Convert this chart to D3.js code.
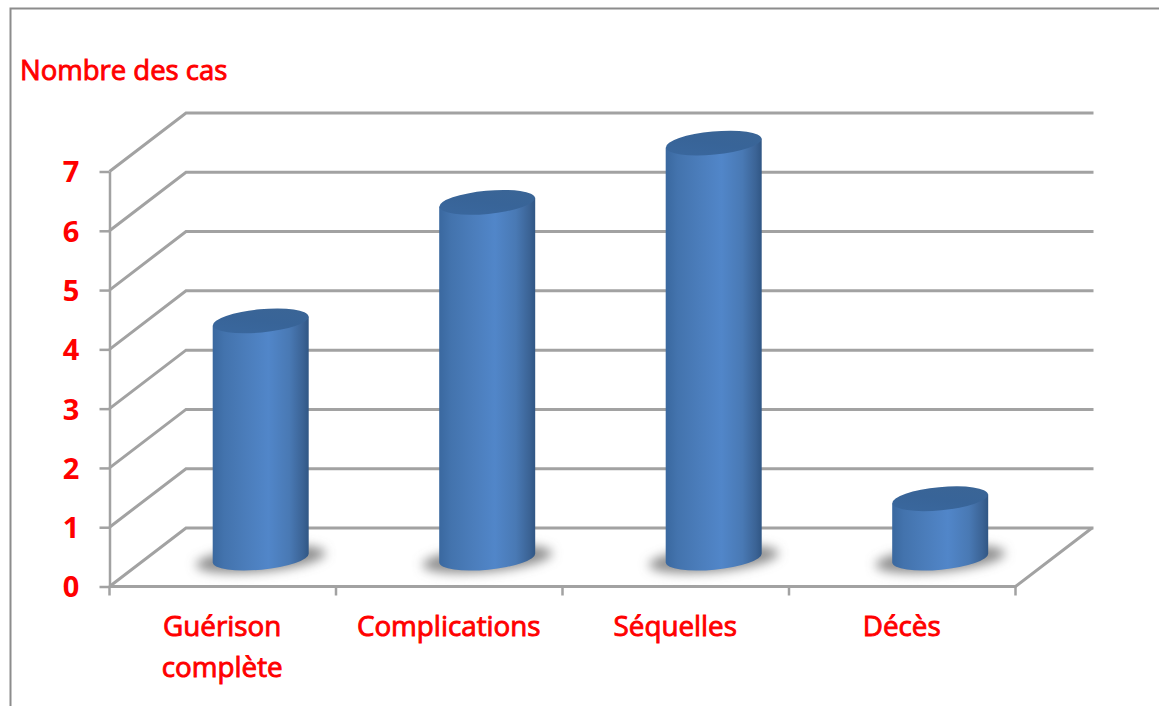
<!DOCTYPE html>
<html>
<head>
<meta charset="utf-8">
<script src="https://cdn.jsdelivr.net/npm/d3@7"></script>
<style>
html,body{margin:0;padding:0;background:#fff;overflow:hidden}
text{font-family:"Open Sans",sans-serif;fill:#ff0000}
</style>
</head>
<body>
<svg id="chart" width="1159" height="706" style="display:block"></svg>
<script>
// Case counts by outcome
const categories = [["Guérison","complète"],["Complications"],["Séquelles"],["Décès"]];
const values = [4, 6, 7, 1];
const yTicks = [0, 1, 2, 3, 4, 5, 6, 7];
const yTitle = "Nombre des cas";

// Plot frame and the oblique offset of the back wall
const plotLeft = 109.5, plotRight = 1015.5, plotBottom = 586.5, plotTop = 171.5;
const depthX = 76.5, depthY = -58.5;
const gridColor = "#a2a2a2";

const svg = d3.select("#chart");
const defs = svg.append("defs");

const y = d3.scaleLinear().domain([0, 7]).range([plotBottom, plotTop]);
const x = d3.scaleBand().domain(d3.range(categories.length)).range([plotLeft, plotRight]);

// Cylinder side shading
const grad = defs.append("linearGradient").attr("id", "side");
[[0, "#3a689f"], [0.12, "#4373ad"], [0.35, "#4b7dbb"], [0.58, "#5186c9"], [0.8, "#4979b4"], [0.94, "#3b6395"], [1, "#305684"]]
  .forEach(([o, c]) => grad.append("stop").attr("offset", o).attr("stop-color", c));

const capGrad = defs.append("linearGradient").attr("id", "cap").attr("x1", 0).attr("x2", 1).attr("y1", 1).attr("y2", 0);
[[0, "#3a689f"], [0.5, "#386498"], [1, "#3b6595"]]
  .forEach(([o, c]) => capGrad.append("stop").attr("offset", o).attr("stop-color", c));

defs.append("filter").attr("id", "soft").attr("x", "-30%").attr("y", "-100%").attr("width", "160%").attr("height", "300%")
  .append("feGaussianBlur").attr("stdDeviation", 5.5);

// Outer chart border, running off the top right and bottom left
svg.append("path")
  .attr("d", "M10.5,706V8.5H1159")
  .attr("fill", "none").attr("stroke", "#8c8c8c").attr("stroke-width", 2);

// Y axis title
svg.append("text").attr("x", 20).attr("y", 80).attr("font-size", 27.5)
  .attr("stroke", "#ff0000").attr("stroke-width", 0.9).text(yTitle);

// Gridlines: back wall, side wall and floor
const grid = svg.append("g").attr("fill", "none").attr("stroke", gridColor).attr("stroke-width", 3);
grid.selectAll("path.g").data(yTicks).join("path").attr("class", "g")
  .attr("d", v => `M${plotLeft},${y(v)}L${plotLeft + depthX},${y(v) + depthY}H${plotRight + depthX + 1.5}`);
grid.append("path").attr("d", `M${plotLeft},${plotBottom}H${plotRight}L${plotRight + depthX},${plotBottom + depthY}`);

// Y axis
const yAxis = svg.append("g").attr("transform", `translate(${plotLeft},0)`)
  .call(d3.axisLeft(y).tickValues(yTicks).tickSize(10).tickSizeOuter(0).tickFormat(d3.format("d")));
yAxis.selectAll("path,line").attr("stroke", gridColor).attr("stroke-width", 2.5);
yAxis.selectAll("text").attr("font-size", 29).attr("font-weight", 700).attr("text-anchor", "middle")
  .attr("x", -38.5).attr("dy", "0.36em").style("font-family", '"Open Sans",sans-serif');

// Tick marks at category boundaries
const boundaries = d3.range(categories.length + 1).map(i => plotLeft + i * x.step());
svg.append("g").selectAll("line").data(boundaries).join("line")
  .attr("x1", d => d).attr("x2", d => d).attr("y1", plotBottom).attr("y2", plotBottom + 9)
  .attr("stroke", gridColor).attr("stroke-width", 2.5);

// Category labels
const labels = svg.append("g").selectAll("text").data(categories).join("text")
  .attr("text-anchor", "middle").attr("font-size", 27.8)
  .attr("stroke", "#ff0000").attr("stroke-width", 0.9);
labels.selectAll("tspan").data((d, i) => d.map((t, k) => ({ t, k, i }))).join("tspan")
  .attr("x", d => x(d.i) + x.bandwidth() / 2 - 0.5)
  .attr("y", d => 635.5 + d.k * 41)
  .text(d => d.t);

// Cylinder geometry
const rx = 48, ry = 11.6, tilt = -5.4;
const rise = rx * Math.sin(-tilt * Math.PI / 180);
const cx = i => x(i) + x.bandwidth() / 2 + depthX / 2 - 0.3;
const midY = v => y(v) + depthY / 2 + 0.8;

const bars = svg.append("g").selectAll("g").data(values).join("g");

// Floor shadow
bars.append("ellipse")
  .attr("cx", (d, i) => cx(i)).attr("cy", midY(0) + 1)
  .attr("rx", rx + 17).attr("ry", ry + 1)
  .attr("transform", (d, i) => `rotate(${tilt} ${cx(i)} ${midY(0)})`)
  .attr("fill", "#707070").attr("fill-opacity", 0.8).attr("filter", "url(#soft)");

// Side of the cylinder
bars.append("path")
  .attr("fill", "url(#side)")
  .attr("d", (d, i) => {
    const c = cx(i), t = midY(d), b = midY(0);
    return `M${c - rx},${t + rise}L${c - rx},${b + rise}` +
      `A${rx},${ry} ${tilt} 0 0 ${c + rx},${b - rise}` +
      `L${c + rx},${t - rise}Z`;
  });

// Top cap
bars.append("ellipse")
  .attr("cx", (d, i) => cx(i)).attr("cy", d => midY(d))
  .attr("rx", rx).attr("ry", ry)
  .attr("transform", (d, i) => `rotate(${tilt} ${cx(i)} ${midY(d)})`)
  .attr("fill", "url(#cap)");
</script>
</body>
</html>
